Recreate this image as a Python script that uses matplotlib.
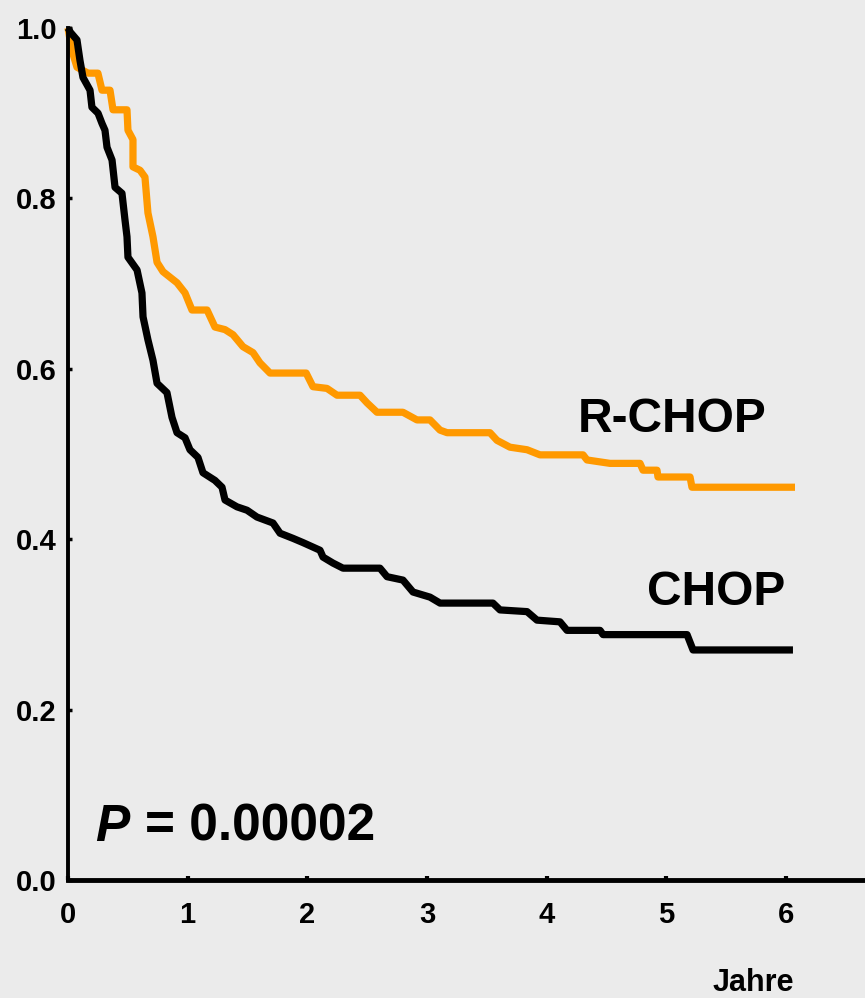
import matplotlib
matplotlib.use("Agg")
import matplotlib.pyplot as plt

# Kaplan-Meier curves (years, survival fraction)
rchop_t = [0.000, 0.030, 0.075, 0.167, 0.250, 0.284, 0.351, 0.376, 0.493, 0.501,
           0.543, 0.543, 0.602, 0.643, 0.668, 0.710, 0.744, 0.794, 0.911, 0.978,
           1.036, 1.162, 1.228, 1.312, 1.379, 1.462, 1.546, 1.604, 1.688, 1.990,
           2.047, 2.164, 2.248, 2.440, 2.499, 2.582, 2.799, 2.916, 3.025, 3.109,
           3.168, 3.526, 3.585, 3.693, 3.836, 3.944, 4.304, 4.337, 4.529, 4.780,
           4.805, 4.922, 4.930, 5.198, 5.214, 6.075]
rchop_s = [1.000, 0.975, 0.954, 0.947, 0.947, 0.927, 0.927, 0.904, 0.904, 0.880,
           0.869, 0.837, 0.833, 0.825, 0.783, 0.755, 0.725, 0.714, 0.701, 0.689,
           0.669, 0.669, 0.649, 0.646, 0.640, 0.626, 0.619, 0.607, 0.595, 0.595,
           0.579, 0.577, 0.569, 0.569, 0.560, 0.549, 0.549, 0.540, 0.540, 0.528,
           0.525, 0.525, 0.516, 0.508, 0.505, 0.499, 0.499, 0.493, 0.489, 0.489,
           0.481, 0.481, 0.473, 0.473, 0.461, 0.461]

chop_t = [0.000, 0.020, 0.075, 0.100, 0.125, 0.184, 0.200, 0.251, 0.284, 0.309,
          0.326, 0.368, 0.393, 0.451, 0.476, 0.493, 0.501, 0.577, 0.618, 0.627,
          0.668, 0.710, 0.744, 0.827, 0.869, 0.911, 0.978, 1.019, 1.086, 1.128,
          1.228, 1.287, 1.312, 1.412, 1.496, 1.579, 1.713, 1.772, 1.880, 1.964,
          2.106, 2.131, 2.214, 2.298, 2.607, 2.666, 2.799, 2.883, 3.025, 3.109,
          3.551, 3.610, 3.836, 3.919, 4.111, 4.170, 4.446, 4.471, 5.173, 5.223,
          6.058]
chop_s = [1.000, 0.995, 0.986, 0.962, 0.942, 0.927, 0.907, 0.900, 0.888, 0.880,
          0.860, 0.845, 0.813, 0.806, 0.775, 0.755, 0.731, 0.716, 0.689, 0.661,
          0.634, 0.610, 0.583, 0.572, 0.543, 0.525, 0.519, 0.505, 0.496, 0.478,
          0.469, 0.461, 0.446, 0.438, 0.434, 0.426, 0.419, 0.407, 0.401, 0.396,
          0.387, 0.379, 0.372, 0.366, 0.366, 0.356, 0.352, 0.338, 0.332, 0.325,
          0.325, 0.317, 0.315, 0.305, 0.303, 0.293, 0.293, 0.288, 0.288, 0.270,
          0.270]

x_ticks = [0, 1, 2, 3, 4, 5, 6]
y_ticks = [0.0, 0.2, 0.4, 0.6, 0.8, 1.0]

bg = "#ebebeb"
orange = "#ff9900"
font = "Liberation Sans"

fig = plt.figure(figsize=(8.65, 9.98), dpi=100, facecolor=bg)
ax = fig.add_axes([68 / 865, 118 / 998, 797 / 865, 852 / 998])
ax.set_facecolor(bg)

ax.plot(rchop_t, rchop_s, color=orange, lw=5.2, clip_on=False,
        solid_joinstyle="round", solid_capstyle="butt")
ax.plot(chop_t, chop_s, color="black", lw=5.2, clip_on=False,
        solid_joinstyle="round", solid_capstyle="butt")

ax.set_xlim(0, 797 / 119.67)
ax.set_ylim(0, 1.0)

for side in ["top", "right"]:
    ax.spines[side].set_visible(False)
ax.spines["bottom"].set_linewidth(3.5)
ax.spines["left"].set_linewidth(2.8)

ax.set_xticks(x_ticks)
ax.set_xticklabels([str(v) for v in x_ticks])
ax.set_yticks(y_ticks)
ax.set_yticklabels([f"{v:.1f}" for v in y_ticks])
ax.tick_params(axis="x", direction="in", length=3, width=3, pad=15)
ax.tick_params(axis="y", direction="in", length=3, width=2.5, pad=8)
for lab in ax.get_xticklabels() + ax.get_yticklabels():
    lab.set_fontfamily(font)
    lab.set_fontweight("bold")
    lab.set_fontsize(21)

ax.text(4.26, 0.54, "R-CHOP", family=font, weight="bold", fontsize=34.5,
        ha="left", va="center")
ax.text(4.84, 0.337, "CHOP", family=font, weight="bold", fontsize=34.5,
        ha="left", va="center")
ax.text(0.225, 0.062, "P", family=font, weight="bold", style="italic",
        fontsize=37, ha="left", va="center")
ax.text(0.645, 0.062, "= 0.00002", family=font, weight="bold", fontsize=37,
        ha="left", va="center")

fig.text(794 / 865, 15 / 998, "Jahre", family=font, weight="bold",
         fontsize=22, ha="right", va="center")

fig.savefig("out.png", dpi=100, facecolor=bg)
